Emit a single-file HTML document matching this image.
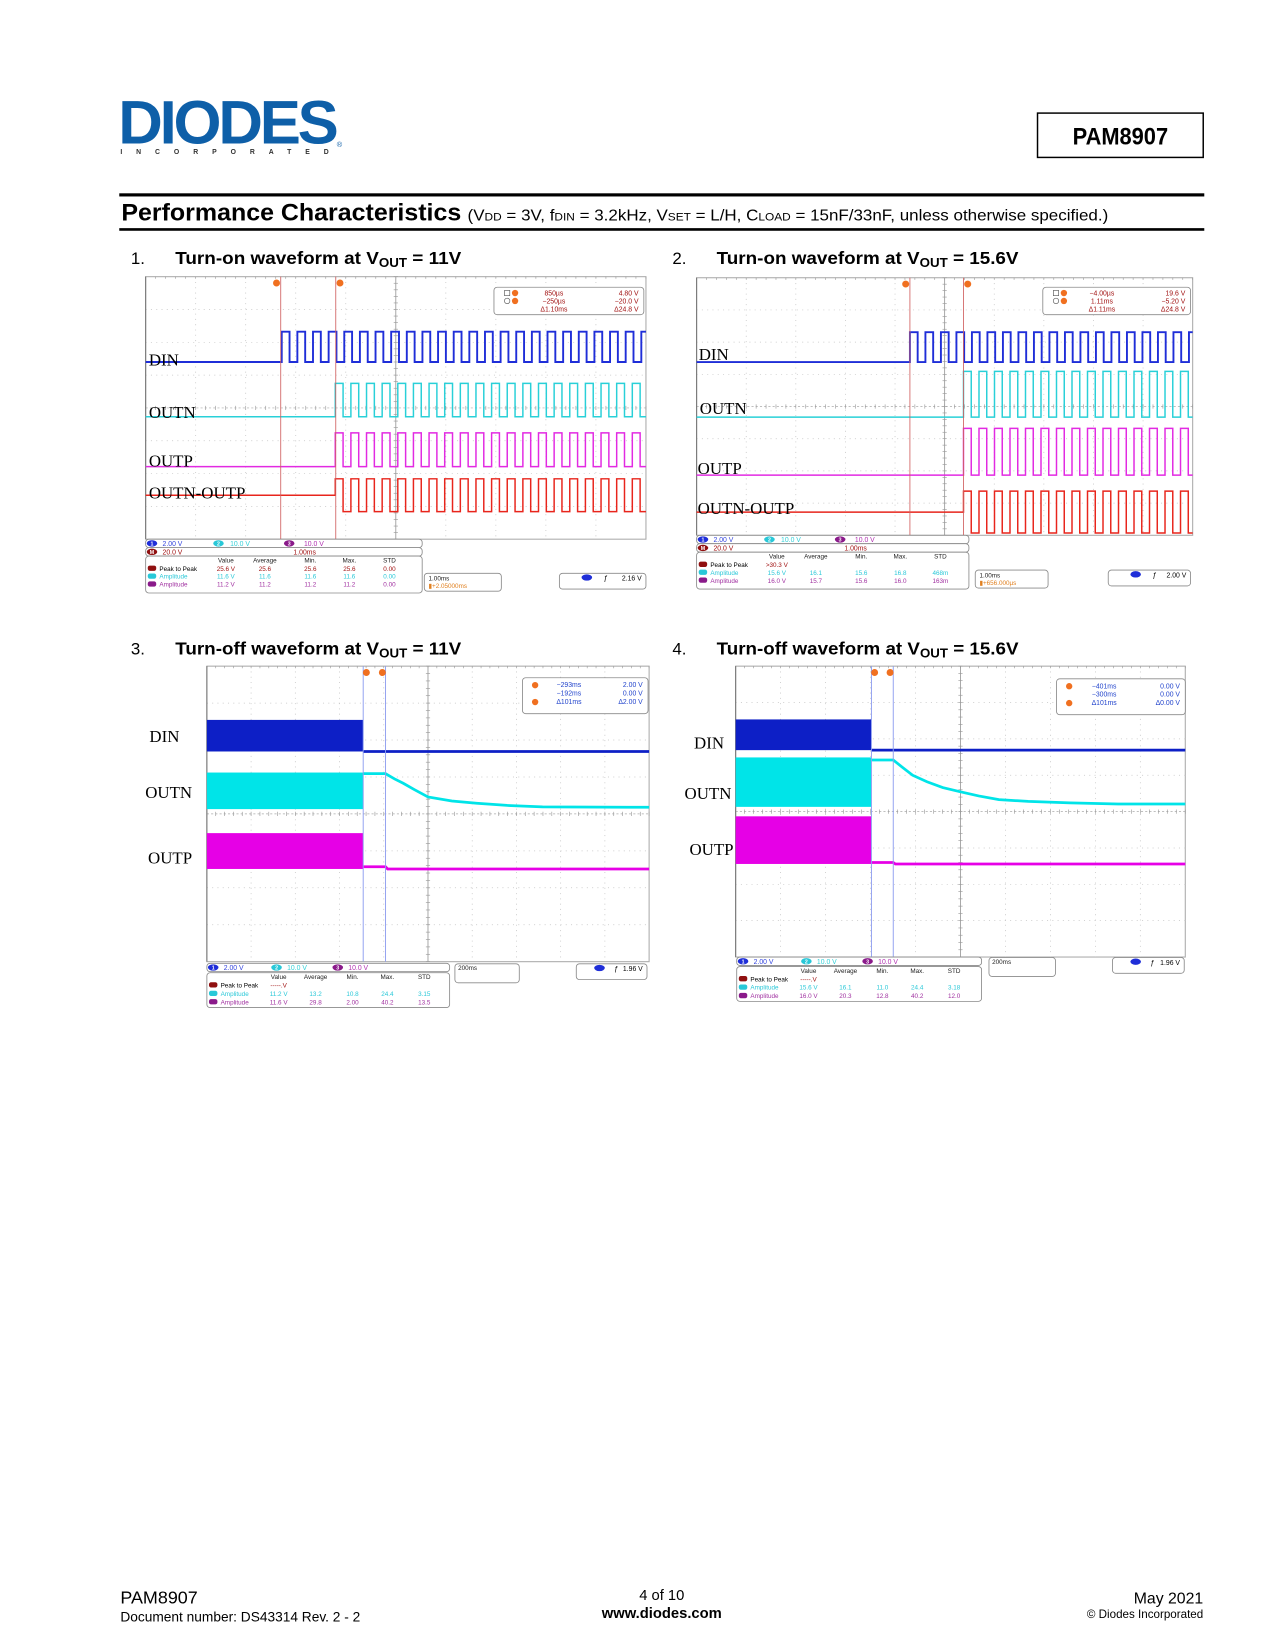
<!DOCTYPE html>
<html><head><meta charset="utf-8"><title>PAM8907 Performance Characteristics</title>
<style>
html,body{margin:0;padding:0;background:#fff;}
svg{display:block;}
text{font-family:"Liberation Sans",sans-serif;}
.serif{font-family:"Liberation Serif",serif;}
</style></head>
<body>
<svg id="page" xmlns="http://www.w3.org/2000/svg" width="1275" height="1650" viewBox="0 0 1208 1563">
<rect x="0" y="0" width="1208" height="1563" fill="#fff"/>
<!-- header -->
<g>
<text x="112" y="136" font-size="58" font-weight="bold" fill="#0e5fa8" letter-spacing="-3" textLength="206" lengthAdjust="spacingAndGlyphs">DIODES</text>
<text x="114" y="146" font-size="6.5" font-weight="bold" fill="#333" letter-spacing="13.2">INCORPORATED</text>
<text x="319" y="139" font-size="7" fill="#0e5fa8">®</text>
</g>
<g>
<rect x="983" y="107" width="157" height="42" fill="#fff" stroke="#000" stroke-width="1.4"/>
<text x="1061.5" y="137" font-size="23" font-weight="bold" text-anchor="middle" transform="translate(1061.5 0) scale(0.9 1) translate(-1061.5 0)">PAM8907</text>
</g>
<rect x="113" y="183" width="1028" height="3" fill="#000"/>
<text x="115" y="209" font-size="23" font-weight="bold" textLength="322" lengthAdjust="spacingAndGlyphs">Performance Characteristics</text>
<text x="443" y="209" font-size="15" textLength="607" lengthAdjust="spacingAndGlyphs">(V<tspan font-size="10.5">DD</tspan> = 3V, f<tspan font-size="10.5">DIN</tspan> = 3.2kHz, V<tspan font-size="10.5">SET</tspan> = L/H, C<tspan font-size="10.5">LOAD</tspan> = 15nF/33nF, unless otherwise specified.)</text>
<rect x="113" y="216" width="1028" height="2.5" fill="#000"/>
<!-- chart titles -->
<text x="124" y="250" font-size="16">1.</text>
<text x="166" y="250" font-size="17" font-weight="bold" textLength="271" lengthAdjust="spacingAndGlyphs">Turn-on waveform at V<tspan font-size="12" dy="3">OUT</tspan><tspan dy="-3"> = 11V</tspan></text>
<text x="637" y="250" font-size="16">2.</text>
<text x="679" y="250" font-size="17" font-weight="bold" textLength="286" lengthAdjust="spacingAndGlyphs">Turn-on waveform at V<tspan font-size="12" dy="3">OUT</tspan><tspan dy="-3"> = 15.6V</tspan></text>
<text x="124" y="620" font-size="16">3.</text>
<text x="166" y="620" font-size="17" font-weight="bold" textLength="271" lengthAdjust="spacingAndGlyphs">Turn-off waveform at V<tspan font-size="12" dy="3">OUT</tspan><tspan dy="-3"> = 11V</tspan></text>
<text x="637" y="620" font-size="16">4.</text>
<text x="679" y="620" font-size="17" font-weight="bold" textLength="286" lengthAdjust="spacingAndGlyphs">Turn-off waveform at V<tspan font-size="12" dy="3">OUT</tspan><tspan dy="-3"> = 15.6V</tspan></text>
<!-- footer -->
<text x="114" y="1519" font-size="17">PAM8907</text>
<text x="114" y="1536" font-size="13">Document number: DS43314  Rev. 2 - 2</text>
<text x="627" y="1516" font-size="14" text-anchor="middle">4 of 10</text>
<text x="627" y="1533" font-size="14" font-weight="bold" text-anchor="middle">www.diodes.com</text>
<text x="1140" y="1519" font-size="15" text-anchor="end">May 2021</text>
<text x="1140" y="1533" font-size="11" text-anchor="end">© Diodes Incorporated</text>
</svg>
<script>
// ---- Scope 1 data (turn-on 11V) ----
const s1Names=['DIN','OUTN','OUTP','OUTN-OUTP'];
const s1VoltsPerDiv=[2,10,10,20];
const s1GroundDiv=[2.6,4.27,5.79,6.66];
const s1AmplitudeV=[1.85,10.2,10.3,10];
const s1StartMs=[-2.28,-1.21,-1.21,-1.21];
const s1FreqKHz=3.2;
const s1CursorMs=[-2.3,-1.2];
// ---- Scope 2 data (turn-on 15.6V) ----
const s2Names=['DIN','OUTN','OUTP','OUTN-OUTP'];
const s2VoltsPerDiv=[2,10,10,20];
const s2GroundDiv=[2.62,4.33,6.13,7.28];
const s2AmplitudeV=[1.86,14.2,14.5,13];
const s2StartMs=[-0.70,0.38,0.38,0.38];
const s2FreqKHz=3.2;
const s2CursorMs=[-0.70,0.38];
// ---- Scope 3 data (turn-off 11V) ----
const s3Names=['DIN','OUTN','OUTP'];
const s3VoltsPerDiv=[2,10,10];
const s3GroundDiv=[2.31,3.87,5.49];
const s3BurstV=[1.71,9.9,9.7];
const s3HoldV=[0,9.6,0.6];
const s3FinalV=[0,0.5,0];
const s3BurstEndMs=-293;
const s3DecayStartMs=-192;
const s3DecayTimesMs=[0,40,80,130,192,300,412,550,710,1100];
const s3DecayV=[9.6,8.2,7.0,5.3,3.3,2.2,1.6,1.0,0.6,0.5];
const s3CursorMs=[-293,-192];
// ---- Scope 4 data (turn-off 15.6V) ----
const s4Names=['DIN','OUTN','OUTP'];
const s4VoltsPerDiv=[2,10,10];
const s4GroundDiv=[2.31,3.87,5.44];
const s4BurstV=[1.69,13.6,13.1];
const s4HoldV=[0,12.9,0.4];
const s4FinalV=[0,0.8,0];
const s4BurstEndMs=-396;
const s4DecayStartMs=-299;
const s4DecayTimesMs=[0,40,86,150,220,299,380,470,600,786,1000];
const s4DecayV=[12.9,10.9,8.7,6.9,5.3,4.15,3.0,2.0,1.5,1.1,0.8];
const s4CursorMs=[-396,-299];

const NS='http://www.w3.org/2000/svg';
const page=document.getElementById('page');
function mk(tag,attrs,parent){const e=document.createElementNS(NS,tag);for(const k in attrs)e.setAttribute(k,attrs[k]);(parent||page).appendChild(e);return e;}
function txt(parent,x,y,s,size,fill,anchor,weight){const e=mk('text',{x:x,y:y,'font-size':size,fill:fill||'#000','text-anchor':anchor||'start','font-weight':weight||'normal'},parent);e.textContent=s;return e;}

function makeAxes(g){
  return {
    x:ms=>g.left+g.w/2+ms/g.msPerDiv*(g.w/10),
    y:(gd,v,vpd)=>g.top+(gd-v/vpd)*(g.h/8)
  };
}
function drawGrid(root,g){
  const grid=mk('g',{},root);
  
  
  mk('rect',{x:g.left,y:g.top,width:g.w,height:g.h,fill:'#fff',stroke:'#aaa','stroke-width':1},grid);
  for(let i=1;i<10;i++){const x=g.left+i*g.w/10;mk('line',{x1:x,y1:g.top,x2:x,y2:g.top+g.h,stroke:i===5?'#999':'#c4c4c4','stroke-width':i===5?0.8:0.7,'stroke-dasharray':i===5?'none':'1 4'},grid);}
  for(let j=1;j<8;j++){const y=g.top+j*g.h/8;mk('line',{x1:g.left,y1:y,x2:g.left+g.w,y2:y,stroke:j===4?'#aaa':'#c4c4c4','stroke-width':0.7,'stroke-dasharray':j===4?'2 2':'1 4'},grid);}
  const cx=g.left+g.w/2,cy=g.top+g.h/2;
  for(let k=0;k<=50;k++){const x=g.left+k*g.w/50;mk('line',{x1:x,y1:cy-2,x2:x,y2:cy+2,stroke:'#999','stroke-width':0.6},grid);mk('line',{x1:x,y1:g.top,x2:x,y2:g.top+2,stroke:'#999','stroke-width':0.6},grid);}
  for(let k=0;k<=40;k++){const y=g.top+k*g.h/40;mk('line',{x1:cx-2,y1:y,x2:cx+2,y2:y,stroke:'#999','stroke-width':0.6},grid);}
  mk('line',{x1:g.left,y1:g.top,x2:g.left,y2:g.top+g.h,stroke:'#777','stroke-width':1},grid);
}
function panel(root,x,y,w,h,name){const r=mk('rect',{x:x,y:y,width:w,height:h,rx:3,fill:'#fff',stroke:'#8a8a8a','stroke-width':0.8},root);return r;}
function oval(root,x,y,c,label){mk('ellipse',{cx:x,cy:y,rx:5,ry:3,fill:c},root);txt(root,x,y+2,label,5,'#fff','middle','bold');}

const colOn=['#1f2ed8','#29d0d8','#e22ae2','#e8251c'];
const colOff=['#0d1fc6','#00e4e8','#e600e6'];

function turnOn(g,names,vpd,gd,amp,start,fk,cur,labelPos){
  const root=mk('g',{});
  
  
  drawGrid(root,g);
  const A=makeAxes(g);
  const periodMs=1/fk;
  const xR=g.left+g.w;
  names.forEach((n,i)=>{
    const bip=(i===3);
    const y0=A.y(gd[i],0,vpd[i]);
    const yH=A.y(gd[i],amp[i],vpd[i]);
    const yL=bip?A.y(gd[i],-amp[i],vpd[i]):y0;
    let d='M'+g.left+' '+y0+' L'+A.x(start[i])+' '+y0;
    let t=start[i];
    while(A.x(t)<xR){
      const xa=A.x(t),xb=Math.min(A.x(t+periodMs/2),xR),xc=Math.min(A.x(t+periodMs),xR);
      d+=' L'+xa+' '+yH+' L'+xb+' '+yH;
      if(xb<xR)d+=' L'+xb+' '+yL+' L'+xc+' '+yL;
      t+=periodMs;
    }
    const p=mk('path',{d:d,fill:'none',stroke:colOn[i],'stroke-width':i===0?1.8:1.4},root);
    
    
    const lb=txt(root,labelPos[i][0],labelPos[i][1],n,16,'#000','start');
    lb.setAttribute('class','serif');
    
    
  });
  cur.forEach((c,k)=>{
    const l=mk('line',{x1:A.x(c),y1:g.top,x2:A.x(c),y2:g.top+g.h+50,stroke:'#d06060','stroke-width':0.8},root);
    
    
    mk('circle',{cx:A.x(c)+(k?4:-4),cy:g.top+6,r:3.3,fill:'#f07020'},root);
  });
  return root;
}

function turnOff(g,names,vpd,gd,burst,hold,fin,bEnd,dStart,dT,dV,cur,labelPos){
  const root=mk('g',{});
  
  
  drawGrid(root,g);
  const A=makeAxes(g);
  const xR=g.left+g.w;
  names.forEach((n,i)=>{
    const y0=A.y(gd[i],0,vpd[i]);
    const yB=A.y(gd[i],burst[i],vpd[i]);
    const r=mk('rect',{x:g.left,y:yB,width:A.x(bEnd)-g.left,height:y0-yB,fill:colOff[i]},root);
    
    
    let d='M'+A.x(bEnd)+' '+A.y(gd[i],hold[i],vpd[i])+' L'+A.x(dStart)+' '+A.y(gd[i],hold[i],vpd[i]);
    if(i===1){
      dT.forEach((t,k)=>{const x=Math.min(A.x(dStart+t),xR);d+=' L'+x+' '+A.y(gd[i],dV[k],vpd[i]);});
      d+=' L'+xR+' '+A.y(gd[i],fin[i],vpd[i]);
    } else {
      d+=' L'+(A.x(dStart)+2)+' '+A.y(gd[i],fin[i],vpd[i])+' L'+xR+' '+A.y(gd[i],fin[i],vpd[i]);
    }
    const p=mk('path',{d:d,fill:'none',stroke:colOff[i],'stroke-width':2.6},root);
    
    
    const lb=txt(root,labelPos[i][0],labelPos[i][1],n,16,'#000','end');
    lb.setAttribute('class','serif');
    
    
  });
  cur.forEach((c,k)=>{
    const l=mk('line',{x1:A.x(c),y1:g.top,x2:A.x(c),y2:g.top+g.h,stroke:'#8f9ff0','stroke-width':0.9},root);
    
    
    mk('circle',{cx:A.x(c)+(k?-3:3),cy:g.top+6,r:3.3,fill:'#f07020'},root);
  });
  return root;
}

function infoOn(root,x,y,w,vals,cursorBox,tb,trig,trigV,rate){
  panel(root,x,y,w,8,'channel-scale-bar');
  oval(root,x+6,y+4,'#1f2ed8','1');txt(root,x+16,y+6.5,'2.00 V',6.5,'#3344dd');
  oval(root,x+69,y+4,'#29c8d8','2');txt(root,x+80,y+6.5,'10.0 V',6.5,'#33d0d8');
  oval(root,x+136,y+4,'#8a1a8a','3');txt(root,x+150,y+6.5,'10.0 V',6.5,'#b030b0');
  panel(root,x,y+8,w,8,'math-scale-bar');
  oval(root,x+6,y+12,'#901010','M');txt(root,x+16,y+14.5,'20.0 V',6.5,'#a01010');
  txt(root,x+140,y+14.5,rate,6.5,'#a01010');
  panel(root,x,y+16,w,35,'measurement-table');
  const hx=[x+76,x+113,x+156,x+193,x+231];
  ['Value','Average','Min.','Max.','STD'].forEach((h,k)=>txt(root,hx[k],y+22,h,6,'#222','middle'));
  const rc=['#a01010','#29c8d8','#a030a0'];
  const rl=['Peak to Peak','Amplitude','Amplitude'];
  vals.forEach((row,r)=>{
    const yy=y+30+r*7.5;
    mk('rect',{x:x+2,y:yy-5,width:8,height:5,rx:2,fill:['#901010','#29c8d8','#8a1a8a'][r]},root);
    txt(root,x+13,yy,rl[r],6,r===0?'#000':rc[r]);
    row.forEach((v,k)=>txt(root,hx[k],yy,v,6,rc[r],'middle'));
  });
  panel(root,tb[0],tb[1],tb[2],17,'timebase-box');
  txt(root,tb[0]+4,tb[1]+7,rate,6,'#222');
  txt(root,tb[0]+4,tb[1]+14,tb[3],6,'#e08020');
  panel(root,trig[0],trig[1],trig[2],15,'trigger-box');
  mk('ellipse',{cx:trig[0]+26,cy:trig[1]+4,rx:5,ry:3,fill:'#1f2ed8'},root);
  txt(root,trig[0]+42,trig[1]+7,'ƒ',7,'#000');
  txt(root,trig[0]+trig[2]-4,trig[1]+7,trigV,6.5,'#000','end');
  const cb=cursorBox;
  panel(root,cb[0],cb[1],cb[2],26,'cursor-readout');
  cb[3].forEach((ln,k)=>{txt(root,cb[0]+cb[2]*0.4,cb[1]+8+k*7.5,ln[0],6.5,'#a01010','middle');txt(root,cb[0]+cb[2]-5,cb[1]+8+k*7.5,ln[1],6.5,'#a01010','end');});
  mk('rect',{x:cb[0]+10,y:cb[1]+3,width:5,height:5,fill:'none',stroke:'#555','stroke-width':0.6},root);
  mk('circle',{cx:cb[0]+12.5,cy:cb[1]+13,r:2.6,fill:'none',stroke:'#555','stroke-width':0.6},root);
  mk('circle',{cx:cb[0]+20,cy:cb[1]+5.5,r:3,fill:'#f07020'},root);
  mk('circle',{cx:cb[0]+20,cy:cb[1]+13,r:3,fill:'#f07020'},root);
}

function infoOff(root,x,y,w,vals,cursorBox,tb,trig,trigV){
  panel(root,x,y,w,8,'channel-scale-bar');
  oval(root,x+6,y+4,'#1f2ed8','1');txt(root,x+16,y+6.5,'2.00 V',6.5,'#3344dd');
  oval(root,x+66,y+4,'#29c8d8','2');txt(root,x+76,y+6.5,'10.0 V',6.5,'#33d0d8');
  oval(root,x+124,y+4,'#8a1a8a','3');txt(root,x+134,y+6.5,'10.0 V',6.5,'#b030b0');
  panel(root,x,y+9,w,33,'measurement-table');
  const hx=[x+68,x+103,x+138,x+171,x+206];
  ['Value','Average','Min.','Max.','STD'].forEach((h,k)=>txt(root,hx[k],y+15,h,6,'#222','middle'));
  const rc=['#a01010','#29c8d8','#a030a0'];
  const rl=['Peak to Peak','Amplitude','Amplitude'];
  vals.forEach((row,r)=>{
    const yy=y+23+r*8;
    mk('rect',{x:x+2,y:yy-5,width:8,height:5,rx:2,fill:['#901010','#29c8d8','#8a1a8a'][r]},root);
    txt(root,x+13,yy,rl[r],6,r===0?'#000':rc[r]);
    row.forEach((v,k)=>txt(root,hx[k],yy,v,6,rc[r],'middle'));
  });
  panel(root,tb[0],tb[1],tb[2],18,'timebase-box');
  txt(root,tb[0]+3,tb[1]+6,'200ms',6,'#222');
  panel(root,trig[0],trig[1],trig[2],15,'trigger-box');
  mk('ellipse',{cx:trig[0]+22,cy:trig[1]+4,rx:5,ry:3,fill:'#1f2ed8'},root);
  txt(root,trig[0]+36,trig[1]+7,'ƒ',7,'#000');
  txt(root,trig[0]+trig[2]-4,trig[1]+7,trigV,6.5,'#000','end');
  const cb=cursorBox;
  panel(root,cb[0],cb[1],cb[2],34,'cursor-readout');
  cb[3].forEach((ln,k)=>{txt(root,cb[0]+cb[2]*0.37,cb[1]+9+k*8,ln[0],6.5,'#2244cc','middle');txt(root,cb[0]+cb[2]-5,cb[1]+9+k*8,ln[1],6.5,'#2244cc','end');});
  mk('circle',{cx:cb[0]+12,cy:cb[1]+7,r:3,fill:'#f07020'},root);
  mk('circle',{cx:cb[0]+12,cy:cb[1]+23,r:3,fill:'#f07020'},root);
}

const geo1={left:138,top:262,w:474,h:248.7,msPerDiv:1};
const geo2={left:660,top:263,w:470,h:244,msPerDiv:1};
const geo3={left:196,top:631,w:419,h:280,msPerDiv:200};
const geo4={left:697,top:631,w:426,h:275.6,msPerDiv:200};

const sc1=turnOn(geo1,s1Names,s1VoltsPerDiv,s1GroundDiv,s1AmplitudeV,s1StartMs,s1FreqKHz,s1CursorMs,[[141,346],[141,396],[141,442],[141,472]]);
infoOn(sc1,138,510.7,262,[['25.6 V','25.6','25.6','25.6','0.00'],['11.6 V','11.6','11.6','11.6','0.00'],['11.2 V','11.2','11.2','11.2','0.00']],
  [468,272,142,[['850µs','4.80 V'],['−250µs','−20.0 V'],['Δ1.10ms','Δ24.8 V']]],[402,543,73,'▮+2.05000ms'],[530,543,82],'2.16 V','1.00ms');
const sc2=turnOn(geo2,s2Names,s2VoltsPerDiv,s2GroundDiv,s2AmplitudeV,s2StartMs,s2FreqKHz,s2CursorMs,[[662,341],[663,392],[661,449],[661,487]]);
infoOn(sc2,660,507,258,[['>30.3 V','','','',''],['15.6 V','16.1','15.6','16.8','468m'],['16.0 V','15.7','15.6','16.0','163m']],
  [988,272,140,[['−4.00µs','19.6 V'],['1.11ms','−5.20 V'],['Δ1.11ms','Δ24.8 V']]],[924,540,69,'▮+656.000µs'],[1050,540,78],'2.00 V','1.00ms');
const sc3=turnOff(geo3,s3Names,s3VoltsPerDiv,s3GroundDiv,s3BurstV,s3HoldV,s3FinalV,s3BurstEndMs,s3DecayStartMs,s3DecayTimesMs,s3DecayV,s3CursorMs,[[170,703],[182,756],[182,818]]);
infoOff(sc3,196,912.5,230,[['-----.V','','','',''],['11.2 V','13.2','10.8','24.4','3.15'],['11.6 V','29.8','2.00','40.2','13.5']],
  [495,642,119,[['−293ms','2.00 V'],['−192ms','0.00 V'],['Δ101ms','Δ2.00 V']]],[431,913,61],[546,913,67],'1.96 V');
const sc4=turnOff(geo4,s4Names,s4VoltsPerDiv,s4GroundDiv,s4BurstV,s4HoldV,s4FinalV,s4BurstEndMs,s4DecayStartMs,s4DecayTimesMs,s4DecayV,s4CursorMs,[[686,709],[693,757],[695,810]]);
infoOff(sc4,698,906.6,232,[['-----.V','','','',''],['15.6 V','16.1','11.0','24.4','3.18'],['16.0 V','20.3','12.8','40.2','12.0']],
  [1001,643,122,[['−401ms','0.00 V'],['−300ms','0.00 V'],['Δ101ms','Δ0.00 V']]],[937,907,63],[1054,907,68],'1.96 V');
</script>
</body></html>
